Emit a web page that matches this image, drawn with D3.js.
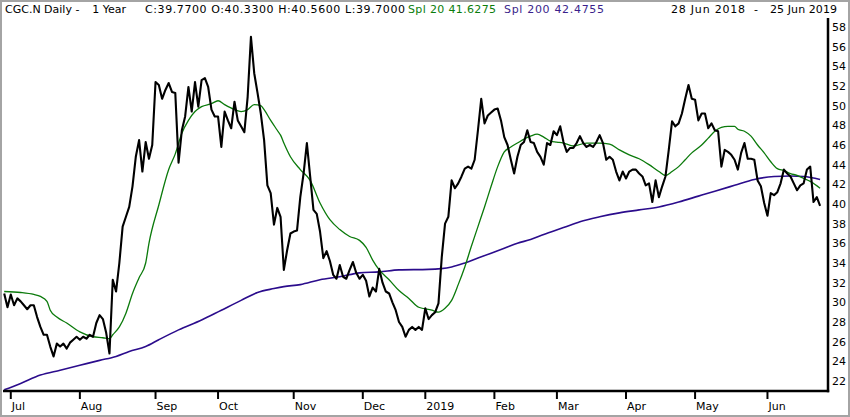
<!DOCTYPE html>
<html>
<head>
<meta charset="utf-8">
<script src="https://cdn.jsdelivr.net/npm/d3@7"></script>
<style>
  body { margin: 0; background: #fff; }
  svg { display: block; }
  text { font-family: "DejaVu Sans", Verdana, sans-serif; }
</style>
</head>
<body>
<div id="chart"></div>
<script>

// daily closes, one per trading day (28 Jun 2018 .. 25 Jun 2019)
var closes = [
	30.9, 29.5, 30.8, 29.7, 30.4, 30.1, 29.7, 29.3, 29.7, 29.7,
	28.5, 27.5, 26.7, 26.7, 25.5, 24.5, 25.8, 25.5, 25.8, 25.3,
	25.9, 26.2, 26.5, 26.2, 26.5, 26.3, 26.7, 26.5, 27.9, 28.7,
	28.3, 26.9, 24.8, 32.3, 31.1, 34.0, 37.7, 38.7, 39.7, 41.8,
	44.8, 46.5, 43.3, 46.3, 44.6, 46.0, 52.4, 52.1, 50.7, 51.6,
	52.3, 51.4, 51.3, 44.2, 47.5, 48.9, 51.9, 49.4, 52.4, 49.9,
	52.6, 52.8, 51.9, 49.6, 48.9, 48.9, 45.8, 49.4, 48.5, 47.7,
	50.4, 48.5, 47.9, 47.3, 50.9, 57.0, 53.3, 51.3, 49.2, 46.5,
	41.9, 41.1, 37.9, 39.6, 38.7, 33.3, 35.3, 37.0, 37.2, 37.3,
	40.7, 43.1, 46.2, 42.8, 39.4, 39.0, 37.2, 34.5, 35.2, 34.2,
	32.8, 32.4, 33.8, 32.6, 32.4, 33.3, 34.1, 33.0, 32.4, 32.8,
	32.2, 30.6, 31.5, 31.1, 33.4, 32.0, 31.1, 30.9, 30.0, 29.2,
	28.0, 27.5, 26.5, 27.2, 27.5, 27.2, 27.5, 27.2, 29.4, 28.3,
	28.7, 29.0, 29.9, 34.6, 38.0, 38.7, 42.4, 41.6, 42.1, 42.8,
	43.6, 43.8, 43.6, 44.5, 47.5, 50.7, 48.2, 49.0, 49.3, 49.6,
	49.7, 48.5, 46.8, 46.0, 44.5, 43.1, 44.8, 46.0, 46.3, 47.5,
	46.3, 46.2, 45.3, 44.8, 44.0, 46.2, 46.0, 47.4, 47.0, 47.9,
	46.3, 45.3, 45.7, 45.7, 46.2, 46.9, 46.2, 45.8, 46.0, 45.8,
	46.3, 47.0, 46.2, 44.5, 44.8, 44.5, 43.3, 42.4, 43.3, 42.6,
	43.3, 43.5, 43.5, 43.1, 42.8, 41.9, 42.1, 40.2, 42.4, 40.7,
	41.8, 42.8, 45.5, 48.4, 47.9, 48.2, 49.2, 50.7, 52.1, 50.7,
	50.6, 48.5, 49.2, 49.2, 47.7, 48.2, 47.5, 47.4, 43.8, 45.5,
	45.3, 45.0, 44.5, 43.5, 45.2, 46.2, 44.6, 44.6, 44.5, 42.4,
	41.8, 40.1, 38.8, 41.1, 40.9, 41.2, 42.1, 43.5, 43.1, 42.8,
	42.1, 41.4, 41.9, 42.1, 43.5, 43.8, 40.2, 40.7, 39.8
];

// Spl 20 (trading day index, value)
var spl20Days = [0, 5, 9, 11, 13, 14, 16, 19, 23, 27, 30, 32, 33, 35, 37, 39, 41, 43, 44, 47, 50, 52, 54, 56, 58, 60, 63, 65, 67, 70, 72, 74, 76, 78, 79, 81, 83, 84, 85, 87, 90, 93, 96, 99, 102, 105, 108, 110, 112, 114, 117, 120, 123, 126, 130, 132, 134, 136, 138, 140, 142, 144, 146, 148, 150, 152, 154, 156, 158, 160, 162, 164, 166, 168, 170, 173, 177, 181, 184, 187, 190, 193, 196, 199, 201, 203, 205, 207, 209, 212, 214, 216, 218, 220, 222, 223, 225, 227, 229, 231, 233, 235, 237, 239, 241, 243, 245, 248];
var spl20 = [31.1, 31.0, 30.8, 30.6, 30.1, 29.2, 28.5, 27.9, 27.0, 26.5, 26.4, 26.3, 26.7, 27.5, 28.9, 30.9, 32.5, 34.0, 36.0, 39.9, 43.5, 45.1, 47.2, 48.5, 49.4, 49.9, 50.2, 50.5, 50.1, 49.6, 49.4, 49.6, 50.1, 50.0, 49.6, 48.5, 47.5, 47.0, 46.2, 44.8, 43.5, 42.4, 40.1, 38.4, 37.4, 36.7, 36.3, 35.6, 34.3, 33.3, 32.3, 31.2, 30.4, 29.5, 29.2, 29.0, 29.4, 30.2, 31.8, 33.6, 35.7, 37.7, 39.7, 41.8, 43.8, 45.3, 45.8, 46.2, 46.6, 46.9, 47.1, 46.8, 46.4, 46.3, 46.2, 45.9, 46.2, 46.2, 46.1, 45.5, 45.0, 44.6, 44.0, 43.3, 42.9, 43.3, 43.8, 44.5, 45.2, 46.0, 46.7, 47.4, 47.8, 47.9, 47.9, 47.6, 47.4, 46.9, 46.0, 45.2, 44.3, 43.6, 43.4, 43.1, 42.9, 42.6, 42.3, 41.6];

// Spl 200
var spl200Days = [0, 5, 11, 17, 23, 29, 34, 38, 43, 47, 53, 60, 66, 72, 77, 82, 85, 90, 96, 102, 108, 114, 120, 129, 136, 140, 144, 148, 152, 156, 160, 164, 170, 175, 181, 187, 193, 199, 205, 211, 216, 222, 228, 234, 239, 243, 248];
var spl200 = [21.1, 21.75, 22.6, 23.1, 23.6, 24.1, 24.5, 25.0, 25.5, 26.2, 27.2, 28.2, 29.2, 30.2, 31.0, 31.4, 31.6, 31.8, 32.3, 32.6, 33.0, 33.1, 33.3, 33.35, 33.6, 34.0, 34.5, 35.0, 35.5, 36.0, 36.4, 36.9, 37.6, 38.2, 38.7, 39.1, 39.4, 39.7, 40.2, 40.8, 41.3, 41.9, 42.5, 42.8, 42.85, 42.8, 42.5];

var monthLabels = ["Jul", "Aug", "Sep", "Oct", "Nov", "Dec", "2019", "Feb", "Mar", "Apr", "May", "Jun"];
var monthDays = [2, 23, 46, 65, 88, 109, 128, 149, 168, 189, 210, 232];
var priceTicks = [58, 56, 54, 52, 50, 48, 46, 44, 42, 40, 38, 36, 34, 32, 30, 28, 26, 24, 22];

var width = 850, height = 417;
var plotLeft = 3, plotRight = 828, plotTop = 18, plotBottom = 391;

var svg = d3.select("#chart").append("svg")
	.attr("width", width)
	.attr("height", height);

svg.append("rect")
	.attr("x", 0).attr("y", 0)
	.attr("width", width).attr("height", height)
	.attr("fill", "#fff");

// outer frame
svg.append("rect")
	.attr("x", 1).attr("y", 1)
	.attr("width", width - 2).attr("height", height - 2)
	.attr("fill", "none")
	.attr("stroke", "#a4a4a4")
	.attr("stroke-width", 2);

var xScale = d3.scaleLinear().domain([0, closes.length - 1]).range([4.2, 820.1]);
var yScale = d3.scaleLinear().domain([22, 58]).range([381, 27]);

svg.append("clipPath").attr("id", "plot-clip")
	.append("rect")
	.attr("x", plotLeft).attr("y", plotTop)
	.attr("width", plotRight - plotLeft).attr("height", plotBottom - plotTop);

var plot = svg.append("g").attr("clip-path", "url(#plot-clip)");

var maLine = d3.line()
	.x(function(d) { return xScale(d[0]); })
	.y(function(d) { return yScale(d[1]); })
	.curve(d3.curveMonotoneX);

plot.append("path")
	.datum(spl200Days.map(function(d, i) { return [d, spl200[i]]; }))
	.attr("fill", "none")
	.attr("stroke", "#2b0c8c")
	.attr("stroke-width", 1.6)
	.attr("d", maLine);

plot.append("path")
	.datum(spl20Days.map(function(d, i) { return [d, spl20[i]]; }))
	.attr("fill", "none")
	.attr("stroke", "#0b7a0b")
	.attr("stroke-width", 1.3)
	.attr("d", maLine);

var priceLine = d3.line()
	.x(function(d, i) { return xScale(i); })
	.y(function(d) { return yScale(d); });

plot.append("path")
	.datum(closes)
	.attr("fill", "none")
	.attr("stroke", "#000")
	.attr("stroke-width", 2.1)
	.attr("stroke-linejoin", "round")
	.attr("d", priceLine);

// axes frame lines
svg.append("line")
	.attr("x1", plotLeft).attr("x2", plotRight + 1.2)
	.attr("y1", plotBottom).attr("y2", plotBottom)
	.attr("stroke", "#000").attr("stroke-width", 2.5);
svg.append("line")
	.attr("x1", plotRight).attr("x2", plotRight)
	.attr("y1", plotTop).attr("y2", plotBottom + 1.2)
	.attr("stroke", "#000").attr("stroke-width", 2.5);

// x axis ticks + labels
var xTicks = svg.selectAll(".x-tick")
	.data(monthDays)
	.enter()
	.append("g")
	.attr("class", "x-tick")
	.attr("transform", function(d) { return "translate(" + xScale(d) + ",0)"; });

xTicks.append("line")
	.attr("y1", plotBottom).attr("y2", plotBottom + 8)
	.attr("stroke", "#000").attr("stroke-width", 2);

xTicks.append("text")
	.attr("x", 1)
	.attr("y", 410)
	.attr("font-size", 11)
	.attr("fill", "#000")
	.text(function(d, i) { return monthLabels[i]; });

// y axis labels
svg.selectAll(".y-label")
	.data(priceTicks)
	.enter()
	.append("text")
	.attr("class", "y-label")
	.attr("x", 832)
	.attr("y", function(d) { return yScale(d); })
	.attr("dy", "0.36em")
	.attr("font-size", 11)
	.attr("fill", "#000")
	.text(function(d) { return d; });

// header, pieces placed where they sit in the reference
var header = svg.append("g").attr("font-size", 11).attr("fill", "#000");
function headerText(x, str, len, color) {
	var t = header.append("text").attr("x", x).attr("y", 13).text(str);
	if (len) t.attr("textLength", len).attr("lengthAdjust", "spacing");
	if (color) t.attr("fill", color);
	return t;
}
headerText(5, "CGC.N Daily -");
headerText(126, "1 Year").attr("text-anchor", "end");
headerText(145, "C:39.7700 O:40.3300 H:40.5600 L:39.7000", 260);
headerText(408, "Spl 20 41.6275", 88, "#0a7d0a");
headerText(504, "Spl 200 42.4755", 100, "#3a1f8c");
headerText(671, "28 Jun 2018", 74);
headerText(754, "-");
headerText(770, "25 Jun 2019", 67);

</script>
</body>
</html>
